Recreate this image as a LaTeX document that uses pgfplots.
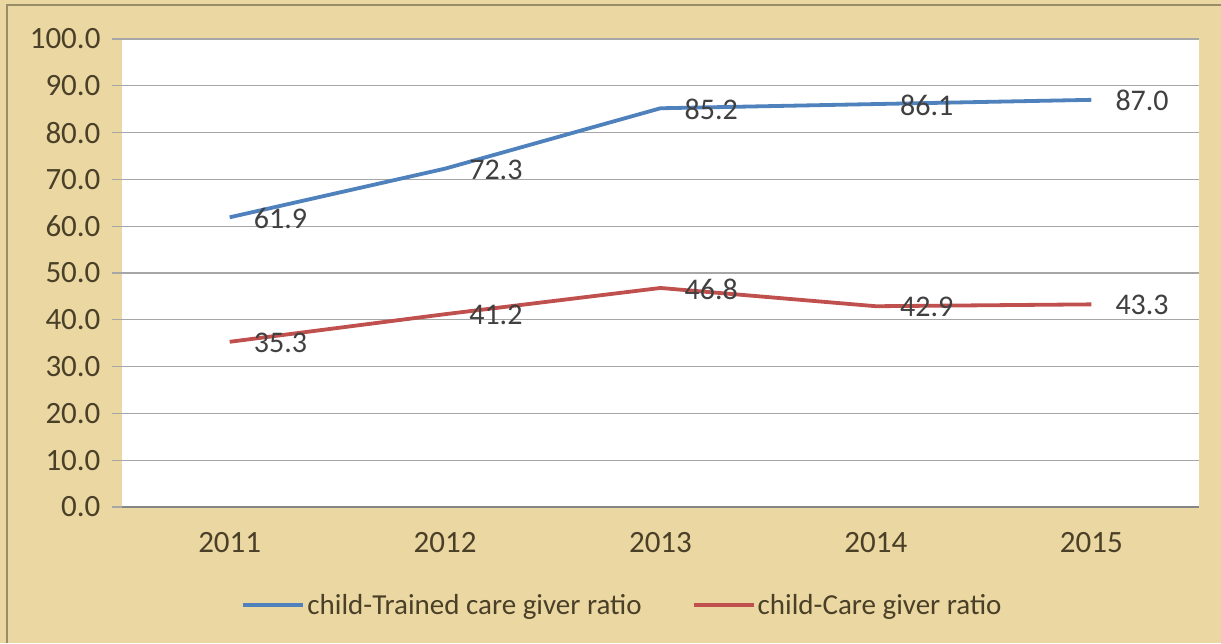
\documentclass[border=0pt]{standalone}
\usepackage{pgfplots}
\pgfplotsset{compat=1.18}
\usepackage{fontspec}
\setmainfont{Carlito}
\definecolor{bgc}{HTML}{EBD7A2}
\definecolor{tickc}{HTML}{4A4028}
\definecolor{labc}{HTML}{404040}
\definecolor{blueS}{HTML}{4F81BD}
\definecolor{redS}{HTML}{C0504D}
\definecolor{gridc}{HTML}{A6A6A6}
\begin{document}
\begin{tikzpicture}
\useasboundingbox (-122pt,-136pt) rectangle (1099pt,507pt);
\fill[bgc] (-122pt,-136pt) rectangle (1099pt,507pt);
\draw[line width=1.5pt, color=black!35!bgc] (-115pt,-136pt) -- (-115pt,502pt) -- (1099pt,502pt);
\begin{axis}[
  at={(0pt,0pt)}, anchor=south west,
  scale only axis, width=1077pt, height=468pt,
  xmin=-0.5, xmax=4.5, ymin=0, ymax=100,
  axis background/.style={fill=white},
  axis x line=bottom, axis y line=left,
  axis line style={-},
  y axis line style={draw=none},
  x axis line style={draw=gridc!80!black, line width=1.2pt},
  xtick={0,1,2,3,4},
  xticklabels={2011,2012,2013,2014,2015},
  x tick style={draw=none},
  extra x ticks={-0.5,0.5,1.5,2.5,3.5,4.5},
  extra x tick labels={},
  extra x tick style={major tick length=9pt, tick align=outside, tick style={draw=gridc!80!black, line width=1pt}},
  ytick={0,10,...,100},
  ymajorgrids,
  grid style={draw=gridc, line width=1.2pt},
  y tick style={draw=gridc, line width=1.2pt},
  major tick length=10pt, tick align=outside,
  /pgf/number format/assume math mode=true,
  ticklabel style={font=\fontsize{31}{34}\selectfont, text=tickc},
  xticklabel style={yshift=-12pt},
  yticklabel style={xshift=-8pt, /pgf/number format/fixed, /pgf/number format/zerofill, /pgf/number format/precision=1},
  nodes near coords={\pgfmathprintnumber[fixed,zerofill,precision=1]{\pgfplotspointmeta}},
  every node near coord/.append style={anchor=west, xshift=19pt, yshift=-1pt, font=\fontsize{30}{32}\selectfont, text=labc},
  legend style={at={(0.4647,-0.2094)}, anchor=center, draw=none, fill=none,
    legend columns=2, font=\fontsize{29}{32}\selectfont, text=tickc,
    /tikz/every even column/.append style={column sep=48pt}},
  legend image code/.code={\draw[#1, line width=4pt] (0pt,0pt) -- (60pt,0pt);},
  legend cell align=left,
]
\addplot[blueS, line width=3.8pt] coordinates {(0,61.9) (1,72.3) (2,85.2) (3,86.1) (4,87.0)};
\addlegendentry{child-Trained care giver ratio}
\addplot[redS, line width=3.8pt] coordinates {(0,35.3) (1,41.2) (2,46.8) (3,42.9) (4,43.3)};
\addlegendentry{child-Care giver ratio}
\end{axis}
\end{tikzpicture}
\end{document}
